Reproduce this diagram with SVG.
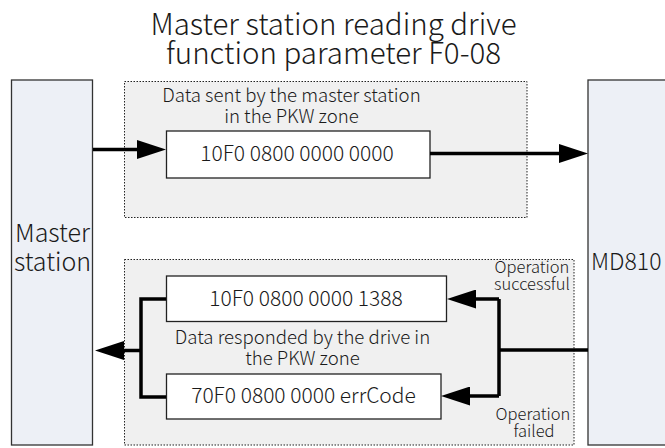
<svg xmlns="http://www.w3.org/2000/svg" width="665" height="448" viewBox="0 0 665 448">
<defs>
<style>
text{font-family:"Noto Sans CJK SC","Noto Sans",sans-serif;font-weight:300;fill:#1a1a1a}
.title{font-size:29.5px;text-anchor:middle}
.big{font-size:25px}
.lbl{font-size:18.6px;text-anchor:middle}
.code{font-size:21px;text-anchor:middle}
.small{font-size:16.5px;text-anchor:middle}
.side{fill:#edf0f6;stroke:#333;stroke-width:1.3}
.zone{fill:#f0f0f0;stroke:#222;stroke-width:1;stroke-dasharray:1.5 1.5}
.box{fill:#fff;stroke:#222;stroke-width:1.3}
.wire{fill:none;stroke:#000;stroke-width:3.5}
</style>
<marker id="ah" viewBox="0 0 29 19" refX="19" refY="9.5" markerWidth="29" markerHeight="19" markerUnits="userSpaceOnUse" orient="auto">
<path d="M0,0 L29,9.5 L0,19 z" fill="#000"/>
</marker>
</defs>
<text class="title" x="333.5" y="35">Master station reading drive</text>
<text class="title" x="333.5" y="63.5">function parameter F0-08</text>
<g id="master">
<rect class="side" x="11.5" y="80" width="81" height="365"/>
<text class="big" x="52.5" y="242" text-anchor="middle">Master</text>
<text class="big" x="52.5" y="271" text-anchor="middle">station</text>
</g>
<g id="drive">
<rect class="side" x="588" y="80" width="90" height="365"/>
<text x="591" y="270" style="font-size:23px">MD810</text>
</g>
<g id="sendZone">
<rect class="zone" x="124.5" y="81.5" width="402.5" height="136"/>
<text class="lbl" x="291.5" y="101.5">Data sent by the master station</text>
<text class="lbl" x="291.5" y="123">in the PKW zone</text>
</g>
<g id="sendBox">
<rect class="box" x="166.5" y="131" width="263.5" height="47"/>
<text class="code" x="297" y="161">10F0 0800 0000 0000</text>
</g>
<g id="respZone">
<rect class="zone" x="124.5" y="259.5" width="449.5" height="185.5"/>
<text class="lbl" x="302.5" y="344">Data responded by the drive in</text>
<text class="lbl" x="302.5" y="365">the PKW zone</text>
<text class="small" x="532" y="272.5">Operation</text>
<text class="small" x="532" y="289.5">successful</text>
<text class="small" x="533" y="420">Operation</text>
<text class="small" x="534" y="437">failed</text>
</g>
<g id="okBox">
<rect class="box" x="166.5" y="276" width="280" height="45.5"/>
<text class="code" x="306" y="305.5">10F0 0800 0000 1388</text>
</g>
<g id="errBox">
<rect class="box" x="166.5" y="374" width="274.5" height="45"/>
<text class="code" x="303.5" y="403">70F0 0800 0000 errCode</text>
</g>
<g id="connectors">
<path class="wire" d="M93,149.5 H156" marker-end="url(#ah)"/>
<path class="wire" d="M430,153.5 H578" marker-end="url(#ah)"/>
<path class="wire" d="M588,350 H499 M499,299 V396"/>
<path class="wire" d="M499,299 H457" marker-end="url(#ah)"/>
<path class="wire" d="M499,396 H451" marker-end="url(#ah)"/>
<path class="wire" d="M166,299 H141 V397 H166"/>
<path class="wire" d="M141,350.5 H105" marker-end="url(#ah)"/>
</g>
</svg>
